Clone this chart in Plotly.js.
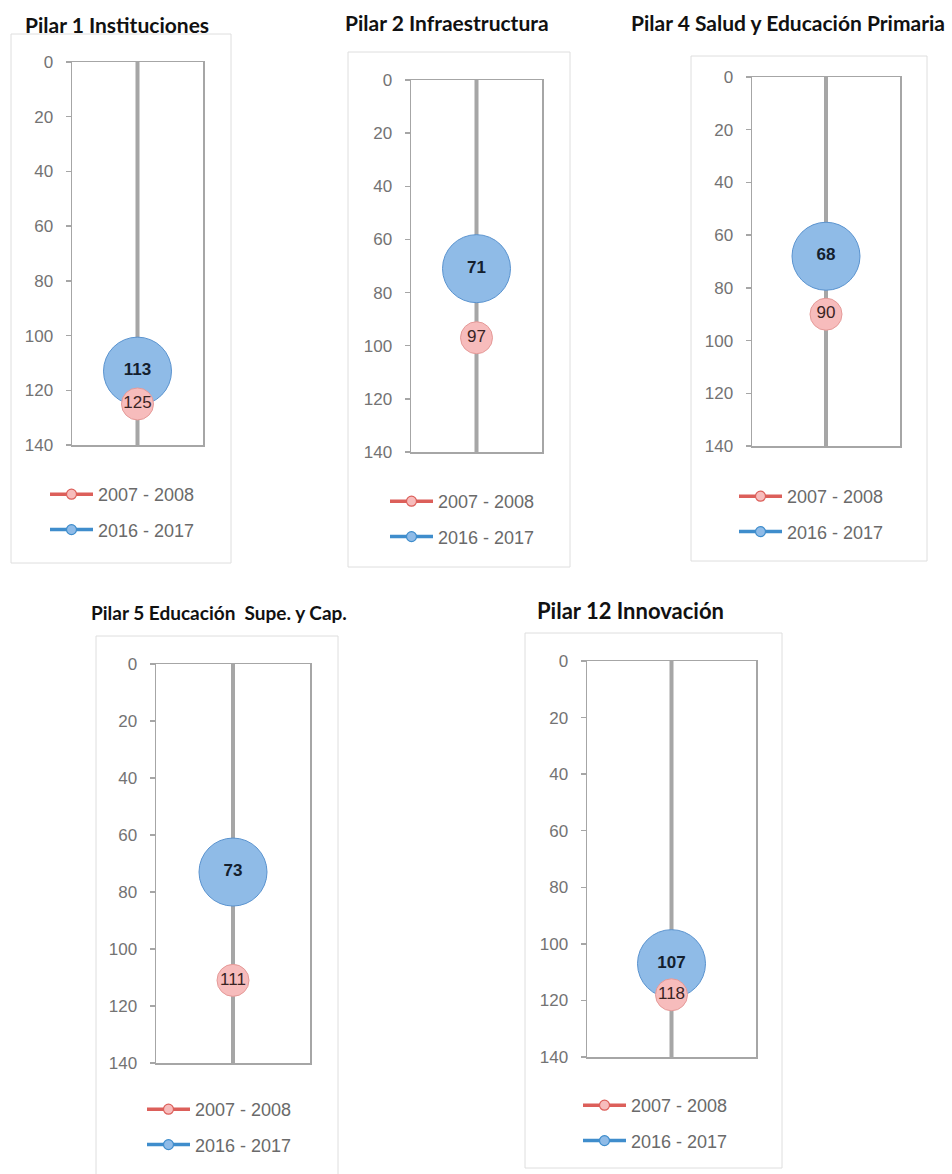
<!DOCTYPE html>
<html>
<head>
<meta charset="utf-8">
<script src="https://cdn.plot.ly/plotly-3.0.1.min.js"></script>
<style>html,body{margin:0;padding:0;background:#fff;}#chart{width:952px;height:1174px;}</style>
</head>
<body>
<div id="chart"></div>
<script>
// ---- data ----
const pillars = ["Pilar 1 Instituciones", "Pilar 2 Infraestructura", "Pilar 4 Salud y Educación Primaria", "Pilar 5 Educación\u00a0 Supe. y Cap.", "Pilar 12 Innovación"];
const seriesNames = ["2007 - 2008", "2016 - 2017"];
const rank2007 = [125, 97, 90, 111, 118];
const rank2016 = [113, 71, 68, 73, 107];
const rankTicks = [0, 20, 40, 60, 80, 100, 120, 140];

// ---- layout geometry (pixels) ----
const W = 952, H = 1174;
const plotBox = [ // [left, right, top, bottom]
  [72, 203, 62, 445],
  [411, 542, 80, 452],
  [752, 900, 77, 446],
  [156, 310, 664, 1063],
  [587, 756, 661, 1057]
];
const frameBox = [
  [11, 231, 34, 563],
  [348, 570, 52, 567],
  [691, 927, 56, 561],
  [96, 338, 636, 1190],
  [525, 782, 633, 1168]
];
const titlePos = [ // [left, centerY, size]
  [23, 24, 21],
  [343, 23, 21],
  [629, 23, 21],
  [89, 612, 19],
  [535, 610, 22]
];
const legendPos = [ // [lineStartX, firstItemY]
  [50, 491],
  [390, 498],
  [739, 493],
  [147, 1106],
  [583, 1102]
];

const px = x => x / W;
const py = y => 1 - y / H;

const RED_LINE = '#dc5f5a', RED_FILL = '#f7bcbc', RED_EDGE = '#e59a98';
const BLUE_LINE = '#3f8dcc', BLUE_FILL = '#8fbbe7', BLUE_EDGE = '#5a93cf';
const AXIS_GRAY = '#a6a6a6';
const FONT = 'Liberation Sans, Arial, sans-serif';

const traces = [];
const layout = {
  width: W, height: H,
  margin: {l: 0, r: 0, t: 0, b: 0},
  paper_bgcolor: '#ffffff',
  plot_bgcolor: 'rgba(0,0,0,0)',
  showlegend: true,
  shapes: [],
  annotations: []
};

pillars.forEach((name, i) => {
  const n = i === 0 ? '' : String(i + 1);
  const xa = 'x' + n, ya = 'y' + n;
  const lg = 'legend' + n;
  const [l, r, t, b] = plotBox[i];

  layout['xaxis' + n] = {
    domain: [px(l), px(r)], anchor: ya, range: [-1, 1],
    showline: true, mirror: true, linecolor: AXIS_GRAY, linewidth: 1.5,
    showticklabels: false, ticks: '', showgrid: false, zeroline: false, fixedrange: true
  };
  layout['yaxis' + n] = {
    domain: [py(b), py(t)], anchor: xa, range: [140, 0],
    tickvals: rankTicks, ticktext: rankTicks.map(String),
    ticks: 'outside', ticklen: 5, tickwidth: 1.5, tickcolor: AXIS_GRAY,
    showline: true, mirror: true, linecolor: AXIS_GRAY, linewidth: 1.5,
    showgrid: false, zeroline: false, fixedrange: true,
    ticklabelstandoff: 9,
    tickfont: {family: FONT, size: 17, color: '#737373'}
  };

  // centre stem
  layout.shapes.push({
    type: 'line', xref: xa, yref: ya + ' domain', x0: 0, x1: 0, y0: 0, y1: 1,
    line: {color: AXIS_GRAY, width: 4}, layer: 'below'
  });
  // outer frame
  const [fl, fr, ft, fb] = frameBox[i];
  layout.shapes.push({
    type: 'rect', xref: 'paper', yref: 'paper',
    x0: px(fl), x1: px(fr), y0: py(fb), y1: py(ft),
    line: {color: '#dedede', width: 1}, fillcolor: 'rgba(0,0,0,0)', layer: 'below'
  });
  // title
  const [tx, ty, ts] = titlePos[i];
  layout.annotations.push({
    text: '<b>' + name + '</b>', xref: 'paper', yref: 'paper',
    x: px(tx), y: py(ty), xanchor: 'left', yanchor: 'middle', showarrow: false,
    font: {family: 'Lato, Open Sans, sans-serif', size: ts, color: '#111111'}
  });

  // data bubbles: 2016-2017 first (behind), then 2007-2008 on top
  traces.push({
    type: 'scatter', mode: 'markers+text', xaxis: xa, yaxis: ya,
    x: [0], y: [rank2016[i]], text: ['<b>' + rank2016[i] + '</b>'],
    textposition: 'middle center', cliponaxis: false, showlegend: false, hoverinfo: 'skip',
    marker: {size: 68, color: BLUE_FILL, line: {color: BLUE_EDGE, width: 1}},
    textfont: {family: FONT, size: 17, color: '#14202e'}
  });
  traces.push({
    type: 'scatter', mode: 'markers+text', xaxis: xa, yaxis: ya,
    x: [0], y: [rank2007[i]], text: [String(rank2007[i])],
    textposition: 'middle center', cliponaxis: false, showlegend: false, hoverinfo: 'skip',
    marker: {size: 32, color: RED_FILL, line: {color: RED_EDGE, width: 1}},
    textfont: {family: FONT, size: 17, color: '#3a2424'}
  });

  // legend entries
  traces.push({
    type: 'scatter', mode: 'lines+markers', xaxis: xa, yaxis: ya,
    x: [null], y: [null], name: seriesNames[0], legend: lg, legendgroup: 'a' + i,
    line: {color: RED_LINE, width: 3.5},
    marker: {size: 10, color: RED_FILL, line: {color: RED_LINE, width: 1.2}}
  });
  traces.push({
    type: 'scatter', mode: 'lines+markers', xaxis: xa, yaxis: ya,
    x: [null], y: [null], name: seriesNames[1], legend: lg, legendgroup: 'b' + i,
    line: {color: BLUE_LINE, width: 3.5},
    marker: {size: 10, color: BLUE_FILL, line: {color: BLUE_LINE, width: 1.2}}
  });

  const [lx, ly] = legendPos[i];
  layout[lg] = {
    x: px(lx - 5), y: py(ly - 15), xanchor: 'left', yanchor: 'top',
    orientation: 'v', bgcolor: 'rgba(0,0,0,0)', borderwidth: 0,
    itemwidth: 43, tracegroupgap: 9, itemclick: false, itemdoubleclick: false,
    font: {family: FONT, size: 18, color: '#6a6a6a'}
  };
});

Plotly.newPlot('chart', traces, layout, {displayModeBar: false, staticPlot: true});
</script>
</body>
</html>
